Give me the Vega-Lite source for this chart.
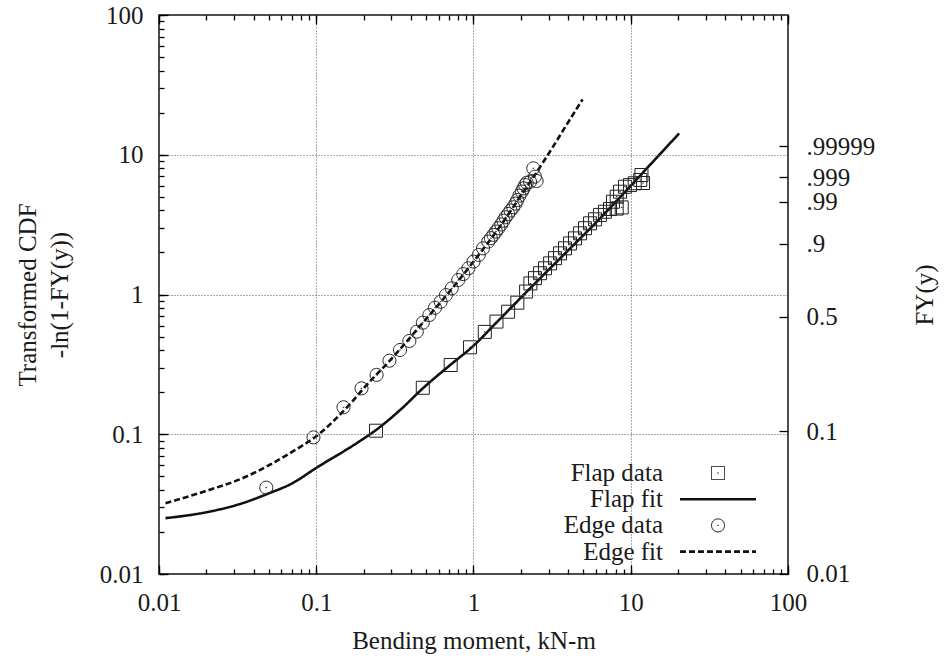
{
  "$schema": "https://vega.github.io/schema/vega-lite/v6.json",
  "width": 629,
  "height": 559,
  "autosize": "none",
  "padding": {"left": 159, "top": 15, "right": 160, "bottom": 86},
  "background": "white",
  "config": {
    "font": "Liberation Serif",
    "view": {"stroke": "#111", "strokeWidth": 1.5},
    "axis": {
      "labelFont": "Liberation Serif", "labelFontSize": 25, "labelColor": "#1a1a1a",
      "titleFont": "Liberation Serif", "titleFontSize": 25, "titleFontWeight": "normal", "titleColor": "#1a1a1a",
      "domain": false, "ticks": true, "tickColor": "#000", "tickWidth": 1.3, "tickOpacity": 1,
      "labelOverlap": false, "labelFlush": false, "labelBound": false
    },
    "legend": {
      "orient": "none", "legendX": 546.5, "legendY": 445.5, "title": null,
      "labelFont": "Liberation Serif", "labelFontSize": 25, "labelColor": "#1a1a1a",
      "labelAlign": "right", "labelOffset": -67.5, "labelLimit": 400,
      "symbolSize": 169, "rowPadding": 0.2, "padding": 0,
      "symbolStrokeColor": "#111", "symbolFillColor": "transparent"
    }
  },
  "datasets": {
    "fits": [
      {"series": "Flap fit", "x": 0.011, "y": 0.0251},
      {"series": "Flap fit", "x": 0.0208, "y": 0.0279},
      {"series": "Flap fit", "x": 0.0339, "y": 0.0321},
      {"series": "Flap fit", "x": 0.05, "y": 0.0378},
      {"series": "Flap fit", "x": 0.0705, "y": 0.0446},
      {"series": "Flap fit", "x": 0.099, "y": 0.057},
      {"series": "Flap fit", "x": 0.187, "y": 0.0885},
      {"series": "Flap fit", "x": 0.242, "y": 0.108},
      {"series": "Flap fit", "x": 0.35, "y": 0.153},
      {"series": "Flap fit", "x": 0.476, "y": 0.213},
      {"series": "Flap fit", "x": 0.716, "y": 0.315},
      {"series": "Flap fit", "x": 1.0, "y": 0.43},
      {"series": "Flap fit", "x": 1.4, "y": 0.63},
      {"series": "Flap fit", "x": 2.13, "y": 1.02},
      {"series": "Flap fit", "x": 3.0, "y": 1.5},
      {"series": "Flap fit", "x": 4.0, "y": 2.07},
      {"series": "Flap fit", "x": 6.37, "y": 3.5},
      {"series": "Flap fit", "x": 10.0, "y": 6.0},
      {"series": "Flap fit", "x": 14.0, "y": 9.04},
      {"series": "Flap fit", "x": 20.3, "y": 14.2},
      {"series": "Edge fit", "x": 0.011, "y": 0.0321},
      {"series": "Edge fit", "x": 0.0208, "y": 0.0399},
      {"series": "Edge fit", "x": 0.0339, "y": 0.0484},
      {"series": "Edge fit", "x": 0.05, "y": 0.06},
      {"series": "Edge fit", "x": 0.0705, "y": 0.075},
      {"series": "Edge fit", "x": 0.099, "y": 0.096},
      {"series": "Edge fit", "x": 0.169, "y": 0.171},
      {"series": "Edge fit", "x": 0.2, "y": 0.213},
      {"series": "Edge fit", "x": 0.3, "y": 0.345},
      {"series": "Edge fit", "x": 0.5, "y": 0.67},
      {"series": "Edge fit", "x": 0.7, "y": 1.04},
      {"series": "Edge fit", "x": 1.0, "y": 1.72},
      {"series": "Edge fit", "x": 1.5, "y": 3.15},
      {"series": "Edge fit", "x": 2.0, "y": 5.1},
      {"series": "Edge fit", "x": 2.4, "y": 6.9},
      {"series": "Edge fit", "x": 2.92, "y": 9.68},
      {"series": "Edge fit", "x": 4.0, "y": 17.07},
      {"series": "Edge fit", "x": 4.94, "y": 24.9}
    ],
    "pts": [
      {"series": "Flap data", "x": 0.24, "y": 0.106},
      {"series": "Flap data", "x": 0.476, "y": 0.215},
      {"series": "Flap data", "x": 0.716, "y": 0.313},
      {"series": "Flap data", "x": 0.95, "y": 0.419},
      {"series": "Flap data", "x": 1.18, "y": 0.54},
      {"series": "Flap data", "x": 1.4, "y": 0.64},
      {"series": "Flap data", "x": 1.66, "y": 0.753},
      {"series": "Flap data", "x": 1.9, "y": 0.874},
      {"series": "Flap data", "x": 2.16, "y": 1.05},
      {"series": "Flap data", "x": 2.3, "y": 1.2},
      {"series": "Flap data", "x": 2.46, "y": 1.31},
      {"series": "Flap data", "x": 2.65, "y": 1.42},
      {"series": "Flap data", "x": 2.85, "y": 1.54},
      {"series": "Flap data", "x": 3.07, "y": 1.67},
      {"series": "Flap data", "x": 3.3, "y": 1.82},
      {"series": "Flap data", "x": 3.55, "y": 1.97},
      {"series": "Flap data", "x": 3.82, "y": 2.14},
      {"series": "Flap data", "x": 4.11, "y": 2.32},
      {"series": "Flap data", "x": 4.42, "y": 2.52},
      {"series": "Flap data", "x": 4.76, "y": 2.74},
      {"series": "Flap data", "x": 5.12, "y": 2.98},
      {"series": "Flap data", "x": 5.51, "y": 3.23},
      {"series": "Flap data", "x": 5.93, "y": 3.45},
      {"series": "Flap data", "x": 6.37, "y": 3.71},
      {"series": "Flap data", "x": 6.85, "y": 3.91},
      {"series": "Flap data", "x": 7.38, "y": 4.09},
      {"series": "Flap data", "x": 8.14, "y": 4.12},
      {"series": "Flap data", "x": 8.76, "y": 4.2},
      {"series": "Flap data", "x": 7.71, "y": 4.61},
      {"series": "Flap data", "x": 8.14, "y": 5.01},
      {"series": "Flap data", "x": 8.55, "y": 5.44},
      {"series": "Flap data", "x": 9.19, "y": 5.9},
      {"series": "Flap data", "x": 9.89, "y": 6.07},
      {"series": "Flap data", "x": 10.6, "y": 6.25},
      {"series": "Flap data", "x": 11.5, "y": 6.6},
      {"series": "Flap data", "x": 11.97, "y": 6.28},
      {"series": "Flap data", "x": 11.7, "y": 7.16},
      {"series": "Edge data", "x": 0.0481, "y": 0.0415},
      {"series": "Edge data", "x": 0.096, "y": 0.095},
      {"series": "Edge data", "x": 0.149, "y": 0.156},
      {"series": "Edge data", "x": 0.194, "y": 0.213},
      {"series": "Edge data", "x": 0.242, "y": 0.266},
      {"series": "Edge data", "x": 0.292, "y": 0.336},
      {"series": "Edge data", "x": 0.341, "y": 0.401},
      {"series": "Edge data", "x": 0.391, "y": 0.465},
      {"series": "Edge data", "x": 0.436, "y": 0.542},
      {"series": "Edge data", "x": 0.476, "y": 0.628},
      {"series": "Edge data", "x": 0.524, "y": 0.713},
      {"series": "Edge data", "x": 0.569, "y": 0.804},
      {"series": "Edge data", "x": 0.618, "y": 0.888},
      {"series": "Edge data", "x": 0.668, "y": 0.99},
      {"series": "Edge data", "x": 0.727, "y": 1.107},
      {"series": "Edge data", "x": 0.8, "y": 1.27},
      {"series": "Edge data", "x": 0.861, "y": 1.4},
      {"series": "Edge data", "x": 0.928, "y": 1.54},
      {"series": "Edge data", "x": 1.0, "y": 1.72},
      {"series": "Edge data", "x": 1.08, "y": 1.92},
      {"series": "Edge data", "x": 1.15, "y": 2.14},
      {"series": "Edge data", "x": 1.24, "y": 2.39},
      {"series": "Edge data", "x": 1.29, "y": 2.53},
      {"series": "Edge data", "x": 1.34, "y": 2.67},
      {"series": "Edge data", "x": 1.39, "y": 2.82},
      {"series": "Edge data", "x": 1.44, "y": 2.98},
      {"series": "Edge data", "x": 1.5, "y": 3.17},
      {"series": "Edge data", "x": 1.55, "y": 3.37},
      {"series": "Edge data", "x": 1.6, "y": 3.57},
      {"series": "Edge data", "x": 1.66, "y": 3.77},
      {"series": "Edge data", "x": 1.72, "y": 3.99},
      {"series": "Edge data", "x": 1.79, "y": 4.21},
      {"series": "Edge data", "x": 1.85, "y": 4.47},
      {"series": "Edge data", "x": 1.9, "y": 4.74},
      {"series": "Edge data", "x": 1.96, "y": 5.1},
      {"series": "Edge data", "x": 2.03, "y": 5.45},
      {"series": "Edge data", "x": 2.08, "y": 5.75},
      {"series": "Edge data", "x": 2.13, "y": 6.07},
      {"series": "Edge data", "x": 2.18, "y": 6.3},
      {"series": "Edge data", "x": 2.29, "y": 6.41},
      {"series": "Edge data", "x": 2.46, "y": 6.97},
      {"series": "Edge data", "x": 2.52, "y": 6.49},
      {"series": "Edge data", "x": 2.4, "y": 8.0}
    ]
  },
  "layer": [
    {
      "data": {"name": "fits"},
      "transform": [{"filter": "datum.series === 'Flap fit'"}],
      "mark": {"type": "line", "color": "#111", "clip": true, "interpolate": "monotone"},
      "encoding": {
        "x": {
          "field": "x", "type": "quantitative",
          "scale": {"type": "log", "domain": [0.01, 100]},
          "axis": {
            "orient": "bottom", "offset": -5, "ticks": true, "tickSize": 5, "zindex": 1,
            "values": [0.01,0.02,0.03,0.04,0.05,0.06,0.07,0.08,0.09,0.1,0.2,0.3,0.4,0.5,0.6,0.7,0.8,0.9,1,2,3,4,5,6,7,8,9,10,20,30,40,50,60,70,80,90,100],
            "labelExpr": "abs(log(datum.value)/LN10 - round(log(datum.value)/LN10)) < 0.001 ? format(datum.value, '~g') : ''",
            "grid": true, "gridDash": [1, 2], "gridColor": "#555", "gridWidth": 1,
            "gridOpacity": {"condition": {"test": "abs(log(datum.value)/LN10 - round(log(datum.value)/LN10)) < 0.001", "value": 1}, "value": 0},
            "labelPadding": 16,
            "title": "Bending moment, kN-m", "titlePadding": 13
          }
        },
        "y": {
          "field": "y", "type": "quantitative",
          "scale": {"type": "log", "domain": [0.01, 100]},
          "axis": {
            "orient": "left", "offset": -5, "ticks": true, "tickSize": 5, "zindex": 1,
            "values": [0.01,0.02,0.03,0.04,0.05,0.06,0.07,0.08,0.09,0.1,0.2,0.3,0.4,0.5,0.6,0.7,0.8,0.9,1,2,3,4,5,6,7,8,9,10,20,30,40,50,60,70,80,90,100],
            "labelExpr": "abs(log(datum.value)/LN10 - round(log(datum.value)/LN10)) < 0.001 ? format(datum.value, '~g') : ''",
            "grid": true, "gridDash": [1, 2], "gridColor": "#555", "gridWidth": 1,
            "gridOpacity": {"condition": {"test": "abs(log(datum.value)/LN10 - round(log(datum.value)/LN10)) < 0.001", "value": 1}, "value": 0},
            "labelPadding": 16,
            "title": ["Transformed CDF", "-ln(1-FY(y))"], "titleLineHeight": 32, "titlePadding": 27
          }
        },
        "strokeDash": {
          "field": "series", "type": "nominal",
          "scale": {"domain": ["Flap data", "Flap fit", "Edge data", "Edge fit"], "range": [[1, 0], [1, 0], [1, 0], [6, 3]]}
        },
        "strokeWidth": {
          "field": "series", "type": "nominal",
          "scale": {"type": "ordinal", "domain": ["Flap data", "Flap fit", "Edge data", "Edge fit"], "range": [1, 2.6, 1, 2.6]}
        }
      }
    },
    {
      "data": {"name": "fits"},
      "transform": [{"filter": "datum.series === 'Edge fit'"}],
      "mark": {"type": "line", "color": "#111", "clip": true, "interpolate": "monotone"},
      "encoding": {
        "x": {
          "field": "x", "type": "quantitative",
          "scale": {"type": "log", "domain": [0.01, 100]},
          "axis": {
            "orient": "bottom", "offset": -9, "ticks": true, "tickSize": 9, "zindex": 1,
            "values": [0.01, 0.1, 1, 10, 100],
            "labels": false, "grid": false, "title": null
          }
        },
        "y": {
          "field": "y", "type": "quantitative",
          "scale": {"type": "log", "domain": [0.01, 100]},
          "axis": {
            "orient": "left", "offset": -9, "ticks": true, "tickSize": 9, "zindex": 1,
            "values": [0.01, 0.1, 1, 10, 100],
            "labels": false, "grid": false, "title": null
          }
        },
        "strokeDash": {
          "field": "series", "type": "nominal",
          "scale": {"domain": ["Flap data", "Flap fit", "Edge data", "Edge fit"], "range": [[1, 0], [1, 0], [1, 0], [6, 3]]}
        },
        "strokeWidth": {
          "field": "series", "type": "nominal",
          "scale": {"type": "ordinal", "domain": ["Flap data", "Flap fit", "Edge data", "Edge fit"], "range": [1, 2.6, 1, 2.6]}
        }
      }
    },
    {
      "data": {"name": "pts"},
      "transform": [{"filter": "datum.series === 'Flap data'"}],
      "mark": {"type": "point", "filled": false, "color": "#222", "size": 169, "opacity": 1},
      "encoding": {
        "x": {
          "field": "x", "type": "quantitative",
          "scale": {"type": "log", "domain": [0.01, 100]},
          "axis": {
            "orient": "top", "offset": -5, "ticks": true, "tickSize": 5, "zindex": 1,
            "values": [0.01,0.02,0.03,0.04,0.05,0.06,0.07,0.08,0.09,0.1,0.2,0.3,0.4,0.5,0.6,0.7,0.8,0.9,1,2,3,4,5,6,7,8,9,10,20,30,40,50,60,70,80,90,100],
            "labels": false, "grid": false, "title": null
          }
        },
        "y": {
          "field": "y", "type": "quantitative",
          "scale": {"type": "log", "domain": [0.01, 100]},
          "axis": {
            "orient": "right", "offset": -9, "ticks": true, "tickSize": 9, "zindex": 1,
            "values": [0.01005, 0.10536, 0.69315, 2.302585, 4.60517, 6.907755, 11.512925],
            "labelExpr": "datum.value < 0.05 ? '0.01' : datum.value < 0.5 ? '0.1' : datum.value < 1 ? '0.5' : datum.value < 3 ? '.9' : datum.value < 5 ? '.99' : datum.value < 8 ? '.999' : '.99999'",
            "grid": false, "labelPadding": 18,
            "title": "FY(y)", "titleAngle": -90, "titlePadding": 63
          }
        },
        "shape": {
          "field": "series", "type": "nominal",
          "scale": {
            "domain": ["Flap data", "Flap fit", "Edge data", "Edge fit"],
            "range": [
              "M-1,-1H1V1H-1Z M-0.12,0H0.12",
              "M-5.85,0H5.85",
              "M-1,0A1,1 0 1,0 1,0A1,1 0 1,0 -1,0Z M-0.12,0H0.12",
              "M-5.85,0H5.85"
            ]
          }
        },
        "strokeWidth": {
          "field": "series", "type": "nominal",
          "scale": {"type": "ordinal", "domain": ["Flap data", "Flap fit", "Edge data", "Edge fit"], "range": [1, 2.6, 1, 2.6]}
        }
      }
    },
    {
      "data": {"name": "pts"},
      "transform": [{"filter": "datum.series === 'Edge data'"}],
      "mark": {"type": "point", "filled": false, "color": "#222", "size": 169, "opacity": 1},
      "encoding": {
        "x": {
          "field": "x", "type": "quantitative",
          "scale": {"type": "log", "domain": [0.01, 100]},
          "axis": {
            "orient": "top", "offset": -9, "ticks": true, "tickSize": 9, "zindex": 1,
            "values": [0.01, 0.1, 1, 10, 100],
            "labels": false, "grid": false, "title": null
          }
        },
        "y": {
          "field": "y", "type": "quantitative",
          "scale": {"type": "log", "domain": [0.01, 100]},
          "axis": null
        },
        "shape": {
          "field": "series", "type": "nominal",
          "scale": {
            "domain": ["Flap data", "Flap fit", "Edge data", "Edge fit"],
            "range": [
              "M-1,-1H1V1H-1Z M-0.12,0H0.12",
              "M-5.85,0H5.85",
              "M-1,0A1,1 0 1,0 1,0A1,1 0 1,0 -1,0Z M-0.12,0H0.12",
              "M-5.85,0H5.85"
            ]
          }
        },
        "strokeWidth": {
          "field": "series", "type": "nominal",
          "scale": {"type": "ordinal", "domain": ["Flap data", "Flap fit", "Edge data", "Edge fit"], "range": [1, 2.6, 1, 2.6]}
        }
      }
    }
  ],
  "resolve": {"axis": {"x": "independent", "y": "independent"}}
}
